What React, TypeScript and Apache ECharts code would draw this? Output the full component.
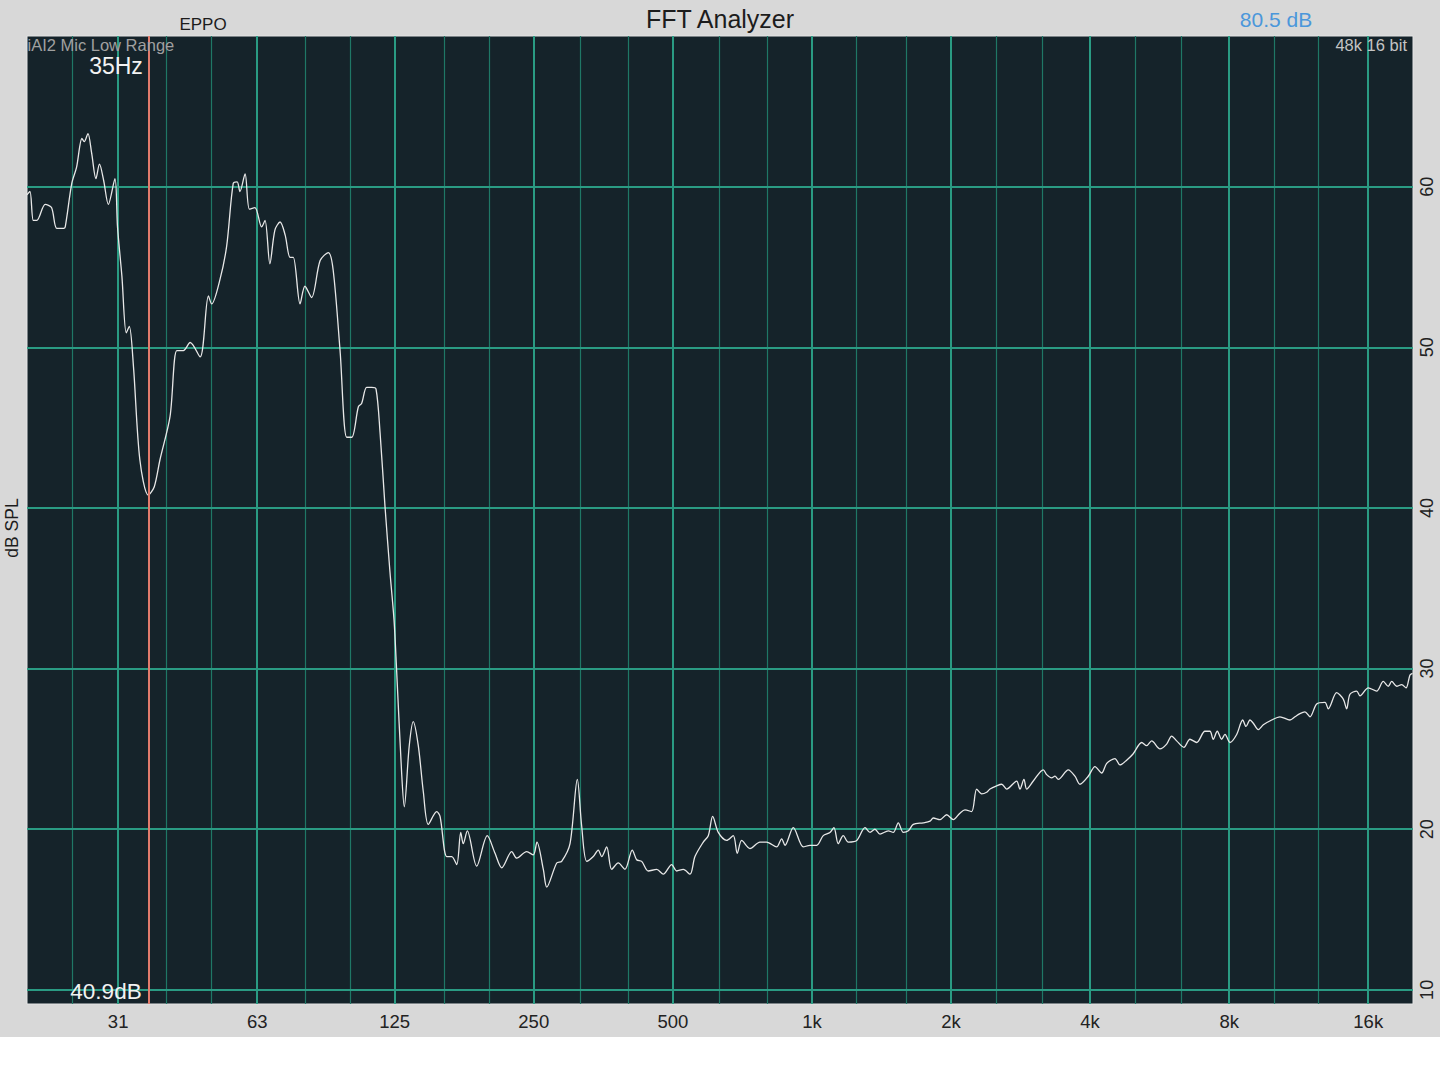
import React, { useEffect, useRef } from "react";
import * as echarts from "echarts";

// Measured spectrum: frequency (Hz) and level (dB SPL)
const freqHz = [
  20, 20.3, 20.64, 21.0, 21.9, 22.6, 23.2, 24.0, 24.2, 25.0,
  25.6, 26.3, 26.6, 27.1, 27.6, 28.2, 28.7, 29.3, 30.0, 31.0,
  31.4, 32.1, 32.8, 33.3, 34.0, 35.1, 36.6, 37.7, 38.8, 40.8,
  42.2, 43.6, 45.1, 47.4, 49.4, 50.2, 52.3, 54.1, 55.9, 57.0,
  57.8, 59.3, 60.6, 62.3, 64.4, 65.5, 67.1, 68.8, 70.6, 72.4,
  74.2, 75.4, 78.0, 79.9, 82.6, 86.2, 89.8, 92.0, 95.2, 98.4,
  100.9, 104.3, 106.0, 108.7, 111.5, 113.9, 116.2, 119.1, 122.1, 124.6,
  126.2, 129.4, 131.1, 134.4, 137.1, 140.6, 144.2, 147.8, 154.1, 156.7,
  162.0, 166.1, 170.3, 173.7, 175.9, 179.5, 188.1, 198.3, 206.1, 213.1,
  224.0, 229.7, 241.3, 249.4, 254.0, 262.2, 266.7, 280.3, 287.3, 299.5,
  310.6, 317.4, 325.5, 336.3, 344.8, 350.7, 359.6, 368.6, 380.9, 393.8,
  408.5, 417.5, 428.1, 442.4, 461.3, 476.7, 497.1, 509.7, 526.7, 544.6,
  558.3, 581.9, 596.6, 609.8, 627.1, 653.8, 675.7, 689.3, 704.6, 734.4,
  771.8, 798.1, 838.8, 860.0, 874.4, 911.3, 958.0, 990.5, 1024, 1058,
  1094, 1116, 1140, 1169, 1199, 1250, 1303, 1336, 1369, 1404,
  1463, 1500, 1538, 1577, 1617, 1657, 1742, 1801, 1831, 1893,
  1957, 2023, 2091, 2144, 2217, 2273, 2330, 2389, 2429, 2511,
  2575, 2639, 2774, 2820, 2877, 2916, 3014, 3168, 3222, 3303,
  3358, 3414, 3588, 3710, 3803, 3964, 4099, 4238, 4345, 4528,
  4643, 4800, 4960, 5173, 5303, 5437, 5667, 5859, 6007, 6158,
  6386, 6580, 6804, 7091, 7270, 7390, 7539, 7706, 7835, 8033,
  8306, 8559, 8701, 8876, 9023, 9251, 9485, 9890, 10306, 10832,
  11105, 11385, 11673, 11968, 12374, 12897, 13110, 13670, 14128, 14370,
  14607, 15104, 15355, 16003, 16688, 17247, 17681, 17985, 18438, 18904,
  19314, 19702, 19950,
];

const splDb = [
  59.5, 59.7, 57.9, 57.9, 58.9, 58.7, 57.4, 57.4, 57.5, 60.2,
  61.2, 63.0, 62.8, 63.3, 62.1, 60.5, 61.4, 60.4, 58.9, 60.5,
  57.5, 54.4, 50.9, 51.3, 48.8, 43.0, 40.8, 41.3, 43.0, 45.7,
  49.8, 49.8, 50.3, 49.4, 53.2, 52.7, 54.2, 56.3, 60.2, 60.3,
  59.7, 60.8, 58.6, 58.7, 57.5, 57.9, 55.2, 57.3, 57.8, 57.0,
  55.6, 55.6, 52.7, 53.8, 53.1, 55.4, 55.9, 54.8, 49.8, 44.4,
  44.4, 46.3, 46.5, 47.5, 47.5, 47.4, 44.7, 40.1, 36.0, 33.0,
  29.9, 23.5, 21.4, 25.2, 26.7, 25.2, 22.3, 20.3, 21.1, 20.8,
  18.3, 18.3, 17.8, 19.8, 19.1, 19.9, 17.7, 19.6, 18.5, 17.6,
  18.6, 18.2, 18.6, 18.4, 19.2, 17.5, 16.4, 17.9, 18.0, 19.1,
  23.1, 20.2, 18.0, 18.3, 18.7, 18.3, 18.9, 17.5, 17.9, 17.5,
  18.7, 18.1, 18.0, 17.4, 17.5, 17.2, 17.8, 17.4, 17.5, 17.2,
  18.3, 19.2, 19.6, 20.8, 19.8, 19.3, 19.6, 18.5, 19.3, 18.8,
  19.2, 19.2, 18.9, 19.4, 19.0, 20.1, 18.9, 19.0, 19.0, 19.6,
  19.8, 20.1, 19.1, 19.6, 19.2, 19.3, 20.1, 19.8, 20.0, 19.7,
  19.9, 19.8, 20.4, 19.8, 19.9, 20.3, 20.4, 20.5, 20.7, 20.6,
  20.9, 20.6, 21.0, 21.2, 21.1, 22.5, 22.2, 22.3, 22.5, 22.7,
  22.8, 22.5, 23.0, 22.5, 23.1, 22.5, 23.0, 23.7, 23.4, 23.2,
  23.3, 23.1, 23.7, 23.3, 22.8, 23.3, 23.9, 23.5, 24.1, 24.4,
  24.0, 24.3, 24.7, 25.4, 25.2, 25.5, 25.0, 25.3, 25.8, 25.5,
  25.1, 25.6, 25.4, 26.1, 26.1, 25.6, 26.1, 25.6, 25.9, 25.4,
  25.9, 26.8, 26.4, 26.8, 26.6, 26.2, 26.5, 26.8, 27.0, 26.8,
  27.0, 27.2, 27.3, 27.0, 27.8, 27.9, 27.5, 28.5, 28.1, 27.5,
  28.4, 28.6, 28.3, 28.8, 28.6, 29.2, 28.9, 29.2, 28.9, 29.0,
  28.8, 29.6, 29.7,
];

// Nominal ISO octave / third-octave frequencies for the grid
const octaveFreqs = [31.5, 63, 125, 250, 500, 1000, 2000, 4000, 8000, 16000];
const octaveLabels = ["31", "63", "125", "250", "500", "1k", "2k", "4k", "8k", "16k"];
const thirdOctaveFreqs = [
  25, 40, 50, 80, 100, 160, 200, 315, 400, 630, 800,
  1250, 1600, 2500, 3150, 5000, 6300, 10000, 12500,
];
const dbTicks = [10, 20, 30, 40, 50, 60];
const cursorFreq = 36.6;

const FONT = "'Liberation Sans', Arial, Helvetica, sans-serif";

export default function App() {
  const ref = useRef<HTMLDivElement>(null);

  useEffect(() => {
    if (!ref.current) return;
    const chart = echarts.init(ref.current, null, { renderer: "svg" });

    const nearestLabel = (v: number) => {
      let best = 0;
      let bestD = Infinity;
      octaveFreqs.forEach((f, i) => {
        const d = Math.abs(Math.log(v / f));
        if (d < bestD) {
          bestD = d;
          best = i;
        }
      });
      return bestD < 0.05 ? octaveLabels[best] : "";
    };

    const gridLines: any[] = [
      ...thirdOctaveFreqs.map((f) => ({
        xAxis: f,
        lineStyle: { color: "#1f7766", width: 1.2, type: "solid" },
      })),
      ...octaveFreqs.map((f) => ({
        xAxis: f,
        lineStyle: { color: "#2a9b83", width: 2, type: "solid" },
      })),
      ...dbTicks.map((v) => ({
        yAxis: v,
        lineStyle: { color: "#2a9b83", width: 2, type: "solid" },
      })),
    ];

    chart.setOption({
      animation: false,
      backgroundColor: "#d8d8d8",
      textStyle: { fontFamily: FONT },
      grid: {
        left: 27,
        right: 27,
        top: 36,
        bottom: 33,
        show: true,
        backgroundColor: "#15232a",
        borderColor: "#e4e4e4",
        borderWidth: 1,
      },
      xAxis: {
        type: "log",
        logBase: 10,
        min: 20,
        max: 20000,
        axisLine: { show: false },
        axisTick: { show: false, customValues: octaveFreqs },
        splitLine: { show: false },
        minorSplitLine: { show: false },
        axisLabel: {
          customValues: octaveFreqs,
          formatter: (v: number) => nearestLabel(v),
          color: "#222",
          fontSize: 18.5,
          fontFamily: FONT,
          margin: 8,
        },
      },
      yAxis: {
        type: "value",
        position: "right",
        min: 9.12,
        max: 69.38,
        axisLine: { show: false },
        axisTick: { show: false, customValues: dbTicks },
        splitLine: { show: false },
        axisLabel: {
          customValues: dbTicks,
          rotate: 90,
          color: "#222",
          fontSize: 18,
          fontFamily: FONT,
          margin: 5,
        },
      },
      series: [
        {
          type: "line",
          data: freqHz.map((f, i) => [f, splDb[i]]),
          showSymbol: false,
          symbol: "none",
          smooth: 0.3,
          silent: true,
          z: 3,
          lineStyle: { color: "#e8e8e8", width: 1.3 },
          markLine: {
            silent: true,
            z: 1,
            symbol: ["none", "none"],
            label: { show: false },
            emphasis: { disabled: true },
            data: gridLines,
          },
        },
        {
          type: "line",
          data: [],
          silent: true,
          z: 4,
          markLine: {
            silent: true,
            z: 6,
            symbol: ["none", "none"],
            label: { show: false },
            emphasis: { disabled: true },
            data: [{ xAxis: cursorFreq, lineStyle: { color: "#e27b6c", width: 2, type: "solid" } }],
          },
        },
      ],
      graphic: [
        {
          type: "text",
          x: 720,
          y: 19,
          style: { text: "FFT Analyzer", font: `25px ${FONT}`, fill: "#1c1c1c", align: "center", verticalAlign: "middle" },
        },
        {
          type: "text",
          x: 203,
          y: 24,
          style: { text: "EPPO", font: `17px ${FONT}`, fill: "#1c1c1c", align: "center", verticalAlign: "middle" },
        },
        {
          type: "text",
          x: 1276,
          y: 19,
          style: { text: "80.5 dB", font: `21px ${FONT}`, fill: "#4b97db", align: "center", verticalAlign: "middle" },
        },
        {
          type: "text",
          x: 27.5,
          y: 45,
          z: 10,
          style: { text: "iAI2 Mic Low Range", font: `16.5px ${FONT}`, fill: "#a0a0a0", align: "left", verticalAlign: "middle" },
        },
        {
          type: "text",
          x: 1407,
          y: 45,
          z: 10,
          style: { text: "48k 16 bit", font: `16.5px ${FONT}`, fill: "#c4c4c4", align: "right", verticalAlign: "middle" },
        },
        {
          type: "text",
          x: 116,
          y: 66,
          z: 10,
          style: { text: "35Hz", font: `23px ${FONT}`, fill: "#f2f2f2", align: "center", verticalAlign: "middle" },
        },
        {
          type: "text",
          x: 106,
          y: 991,
          z: 10,
          style: { text: "40.9dB", font: `22.5px ${FONT}`, fill: "#f2f2f2", align: "center", verticalAlign: "middle" },
        },
        {
          type: "text",
          x: 12,
          y: 528,
          rotation: Math.PI / 2,
          style: { text: "dB SPL", font: `17.5px ${FONT}`, fill: "#1c1c1c", align: "center", verticalAlign: "middle" },
        },
      ],
    });

    return () => chart.dispose();
  }, []);

  return (
    <div style={{ position: "fixed", left: 0, top: 0, width: 1440, height: 1080, background: "#ffffff" }}>
      <div ref={ref} style={{ width: 1440, height: 1037 }} />
    </div>
  );
}
